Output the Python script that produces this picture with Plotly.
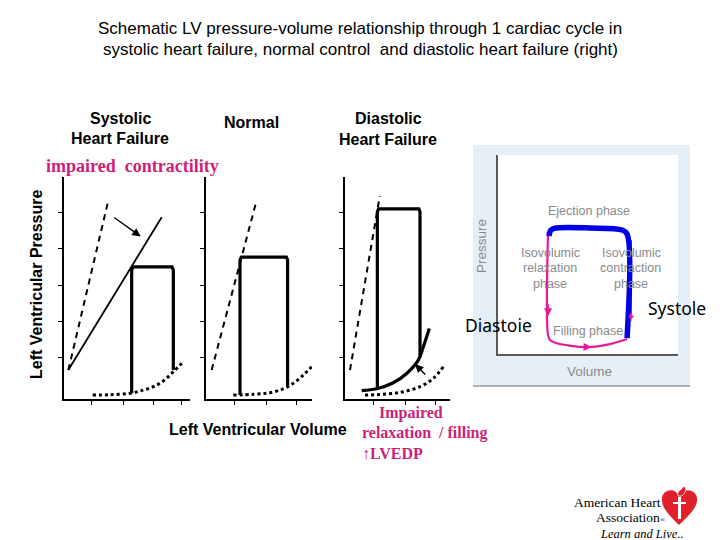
import plotly.graph_objects as go

W, H = 720, 540

# ---------------- data (volume units, pressure units) ----------------
# Systolic heart failure panel
sys_espvr_norm_v = [7.2, 73.9]
sys_espvr_norm_p = [19.8, 136.0]
sys_espvr_dep_v = [7.2, 162.8]
sys_espvr_dep_p = [19.8, 124.5]
sys_loop_v = [112.8, 112.8, 115.0, 180.0, 182.2, 182.2]
sys_loop_p = [3.9, 88.4, 90.4, 90.4, 88.4, 19.8]
sys_edpvr_v = [47.8, 76.7, 110.0, 132.0, 149.0, 166.0, 182.0, 199.0]
sys_edpvr_p = [2.7, 2.9, 3.9, 6.1, 8.4, 12.5, 18.6, 25.5]
sys_xticks = [46.1, 98.9, 148.9, 196.1]

# Normal panel
nor_espvr_v = [9.4, 84.4]
nor_espvr_p = [19.8, 136.0]
nor_loop_v = [56.7, 56.7, 59.0, 134.0, 136.0, 136.0]
nor_loop_p = [2.7, 95.2, 97.2, 97.2, 95.2, 8.4]
nor_edpvr_v = [45.5, 78.9, 106.7, 128.9, 145.5, 162.2, 176.1]
nor_edpvr_p = [2.7, 3.2, 4.3, 7.0, 10.7, 16.4, 22.1]
nor_xticks = [48.3, 101.1, 151.1]

# Diastolic heart failure panel
dia_espvr_v = [8.3, 58.0]
dia_espvr_p = [19.8, 139.0]
dia_loop_v = [53.9, 53.9, 56.0, 123.0, 125.0, 125.0]
dia_loop_p = [8.0, 128.2, 130.2, 130.2, 128.2, 29.0]
dia_stiff_v = [27.8, 52.8, 80.5, 102.8, 122.2, 130.5, 140.5]
dia_stiff_p = [5.7, 7.0, 11.1, 17.5, 26.6, 35.7, 48.3]
dia_edpvr_v = [33.3, 69.4, 97.2, 125.0, 147.2, 164.0]
dia_edpvr_p = [2.7, 3.4, 5.0, 8.4, 14.1, 22.1]
dia_xticks = [47.2, 100.0, 150.0]

pressure_ticks = [28.2, 52.8, 77.9, 102.9, 127.9]

# Generic PV loop (right)
gen_blue_v = [28.3, 29.4, 32.2, 51.1, 68.9, 71.7, 71.7]
gen_blue_p = [59.3, 62.3, 63.3, 63.3, 62.3, 60.3, 8.0]
gen_pink_v = [27.8, 27.8, 28.9, 32.2, 50.0, 62.2, 71.7]
gen_pink_p = [61.3, 9.5, 7.0, 5.5, 3.5, 5.0, 7.5]
gen_pink_up_v = [73.9, 73.9]
gen_pink_up_p = [18.1, 57.3]

# ---------------- helpers ----------------
def P(x):
    return x / W

def Q(y):
    return 1 - y / H

fig = go.Figure()

BLACK = "black"
MAG = "#cc1f78"
PINK = "#e8189a"
BLUE = "#0000e6"
GRAY = "#8a8a8a"

def line(v, p, ax, width=2, dash=None, color=BLACK, shape="linear"):
    fig.add_trace(go.Scatter(
        x=v, y=p, mode="lines", xaxis=ax[0], yaxis=ax[1],
        line=dict(color=color, width=width, dash=dash, shape=shape),
        hoverinfo="skip", showlegend=False))

# panel 1
A1 = ("x", "y")
line(sys_espvr_norm_v, sys_espvr_norm_p, A1, 2, "6px,5px")
line(sys_espvr_dep_v, sys_espvr_dep_p, A1, 1.8)
line(sys_loop_v, sys_loop_p, A1, 3.2)
line(sys_edpvr_v, sys_edpvr_p, A1, 3, "dot", shape="spline")
# panel 2
A2 = ("x2", "y2")
line(nor_espvr_v, nor_espvr_p, A2, 2, "6px,5px")
line(nor_loop_v, nor_loop_p, A2, 3.2)
line(nor_edpvr_v, nor_edpvr_p, A2, 3, "dot", shape="spline")
# panel 3
A3 = ("x3", "y3")
line(dia_espvr_v, dia_espvr_p, A3, 2, "6px,5px")
line(dia_loop_v, dia_loop_p, A3, 3.2)
line(dia_stiff_v, dia_stiff_p, A3, 3.2, shape="spline")
line(dia_edpvr_v, dia_edpvr_p, A3, 3, "dot", shape="spline")
# panel 4 (generic loop)
A4 = ("x4", "y4")
line(gen_pink_v, gen_pink_p, A4, 2.2, color=PINK, shape="spline")
line(gen_pink_up_v, gen_pink_up_p, A4, 2, color=PINK)
line(gen_blue_v, gen_blue_p, A4, 5.5, color=BLUE, shape="spline")

# ---------------- axes ----------------
def small_axes(xd, xr, xt):
    xa = dict(domain=[P(xd[0]), P(xd[1])], range=xr, showline=True,
              linecolor=BLACK, linewidth=1.6, ticks="outside", ticklen=4,
              tickwidth=1.4, tickcolor=BLACK, tickvals=xt,
              showticklabels=False, showgrid=False, zeroline=False,
              fixedrange=True)
    return xa

ydom = [Q(399), Q(177)]
ya = dict(domain=ydom, range=[0, 152], showline=True, linecolor=BLACK,
          linewidth=1.6, ticks="outside", ticklen=4, tickwidth=1.4,
          tickcolor=BLACK, tickvals=pressure_ticks, showticklabels=False,
          showgrid=False, zeroline=False, fixedrange=True)

fig.update_layout(
    xaxis=dict(small_axes((64, 190), [0, 210], sys_xticks), anchor="y"),
    yaxis=dict(ya, anchor="x"),
    xaxis2=dict(small_axes((206, 312), [0, 176.7], nor_xticks), anchor="y2"),
    yaxis2=dict(ya, anchor="x2"),
    xaxis3=dict(small_axes((345, 450), [0, 175], dia_xticks), anchor="y3"),
    yaxis3=dict(ya, anchor="x3"),
    xaxis4=dict(domain=[P(498), P(678)], range=[0, 100], anchor="y4",
                showline=True, linecolor="#5a5a5a", linewidth=2,
                showticklabels=False, showgrid=False, zeroline=False,
                ticks="", fixedrange=True),
    yaxis4=dict(domain=[Q(354), Q(155)], range=[0, 100], anchor="x4",
                showline=True, linecolor="#5a5a5a", linewidth=2,
                showticklabels=False, showgrid=False, zeroline=False,
                ticks="", fixedrange=True),
)

# ---------------- shapes ----------------
shapes = [
    dict(type="rect", xref="paper", yref="paper", x0=P(473), x1=P(690),
         y0=Q(386), y1=Q(145), fillcolor="#e4eff8", line=dict(width=0),
         layer="below"),
    dict(type="rect", xref="paper", yref="paper", x0=P(498), x1=P(678),
         y0=Q(354), y1=Q(155), fillcolor="white", line=dict(width=0),
         layer="below"),
    dict(type="line", xref="paper", yref="paper", x0=P(473), x1=P(690),
         y0=Q(386), y1=Q(386), line=dict(color="#9a9a9a", width=1.5)),
]

def pt(x, y):
    return f"{P(x):.5f},{Q(y):.5f}"

heart = ("M " + pt(679, 525) + " C " + pt(670, 516) + " " + pt(661, 508) + " " + pt(662, 498)
         + " C " + pt(663, 489) + " " + pt(675, 487) + " " + pt(679, 496)
         + " C " + pt(683, 487) + " " + pt(696, 489) + " " + pt(697, 498)
         + " C " + pt(698, 508) + " " + pt(688, 516) + " " + pt(679, 525) + " Z")
shapes.append(dict(type="path", xref="paper", yref="paper", path=heart,
                   fillcolor="#e0202a", line=dict(width=0)))
flame = ("M " + pt(678, 496) + " C " + pt(676, 491) + " " + pt(682, 490) + " " + pt(684, 486)
         + " C " + pt(688, 489) + " " + pt(685, 493) + " " + pt(682, 496) + " Z")
shapes.append(dict(type="path", xref="paper", yref="paper", path=flame,
                   fillcolor="#e0202a", line=dict(color="white", width=0.8)))
shapes.append(dict(type="rect", xref="paper", yref="paper", x0=P(678), x1=P(681),
                   y0=Q(519), y1=Q(497), fillcolor="white", line=dict(width=0)))
shapes.append(dict(type="rect", xref="paper", yref="paper", x0=P(673), x1=P(686),
                   y0=Q(504), y1=Q(502), fillcolor="white", line=dict(width=0)))
fig.update_layout(shapes=shapes)

# ---------------- annotations ----------------
ann = []

def txt(x, y, s, size=14, color=BLACK, family="Liberation Sans", xanchor="center",
        angle=0, bold=False, italic=False):
    if bold:
        s = f"<b>{s}</b>"
    if italic:
        s = f"<i>{s}</i>"
    ann.append(dict(x=P(x), y=Q(y), xref="paper", yref="paper", text=s,
                    showarrow=False, xanchor=xanchor, yanchor="middle",
                    textangle=angle, font=dict(size=size, color=color, family=family)))

txt(360, 29, "Schematic LV pressure-volume relationship through 1 cardiac cycle in", 17)
txt(360, 49, "systolic heart failure, normal control  and diastolic heart failure (right)", 17)

txt(120, 119, "Systolic", 16, bold=True)
txt(120, 138, "Heart Failure", 16, bold=True)
txt(251, 123, "Normal", 16, bold=True)
txt(388, 119, "Diastolic", 16, bold=True)
txt(388, 139, "Heart Failure", 16, bold=True)

txt(44, 166, "impaired  contractility", 18, MAG, "Liberation Serif", "left", bold=True)
txt(36, 284, "Left Ventricular Pressure", 16, angle=-90, bold=True)
txt(258, 429, "Left Ventricular Volume", 16, bold=True)

txt(377, 413, "Impaired", 16, MAG, "Liberation Serif", "left", bold=True)
txt(360, 433, "relaxation  / filling", 16, MAG, "Liberation Serif", "left", bold=True)
txt(360, 453, "\u2191LVEDP", 16, MAG, "Liberation Serif", "left", bold=True)

# generic loop labels
txt(589, 211, "Ejection phase", 12.5, GRAY)
txt(550, 253, "Isovolumic", 12.5, GRAY)
txt(550, 268, "relaxation", 12.5, GRAY)
txt(550, 284, "phase", 12.5, GRAY)
txt(631, 253, "Isovolumic", 12.5, GRAY)
txt(630, 268, "contraction", 12.5, GRAY)
txt(631, 284, "phase", 12.5, GRAY)
txt(588, 331, "Filling phase", 12.5, GRAY)
txt(589, 371, "Volume", 13.5, GRAY)
txt(482, 246, "Pressure", 13.5, GRAY, angle=-90)

txt(677, 308, "Systole", 17.5, BLACK, "Noto Sans")
txt(498, 325, "Diastoie", 17.5, BLACK, "Noto Sans")

# logo text
txt(617, 502, "American Heart", 13.5, BLACK, "Liberation Serif")
txt(631, 517, "Association<span style='font-size:7px'>®</span>", 13.5, BLACK, "Liberation Serif")
txt(642, 534, "Learn and Live..", 12.5, BLACK, "Liberation Serif", italic=True)

# arrows
ann.append(dict(x=127.8, y=111.3, ax=81.1, ay=125, xref="x", yref="y", axref="x",
                ayref="y", text="", showarrow=True, arrowhead=2, arrowsize=1.2,
                arrowwidth=1.4, arrowcolor=BLACK))
ann.append(dict(x=116.7, y=23.9, ax=136.1, ay=15.7, xref="x3", yref="y3", axref="x3",
                ayref="y3", text="", showarrow=True, arrowhead=2, arrowsize=1.2,
                arrowwidth=1.4, arrowcolor=BLACK))
ann.append(dict(x=27.8, y=19, ax=27.8, ay=26, xref="x4", yref="y4", axref="x4",
                ayref="y4", text="", showarrow=True, arrowhead=2, arrowsize=1,
                arrowwidth=1.6, arrowcolor=PINK))
ann.append(dict(x=52, y=3.5, ax=46, ay=3.6, xref="x4", yref="y4", axref="x4",
                ayref="y4", text="", showarrow=True, arrowhead=2, arrowsize=1,
                arrowwidth=1.6, arrowcolor=PINK))
ann.append(dict(x=73.9, y=21, ax=73.9, ay=16, xref="x4", yref="y4", axref="x4",
                ayref="y4", text="", showarrow=True, arrowhead=2, arrowsize=0.8,
                arrowwidth=1.4, arrowcolor=PINK))

fig.update_layout(
    annotations=ann,
    width=W, height=H,
    margin=dict(l=0, r=0, t=0, b=0),
    paper_bgcolor="white",
    plot_bgcolor="rgba(0,0,0,0)",
    showlegend=False,
)

fig.write_html("out.html",
               config={"displayModeBar": False},
               post_script="document.body.style.margin='0';document.body.style.padding='0';document.body.style.overflow='hidden';")
